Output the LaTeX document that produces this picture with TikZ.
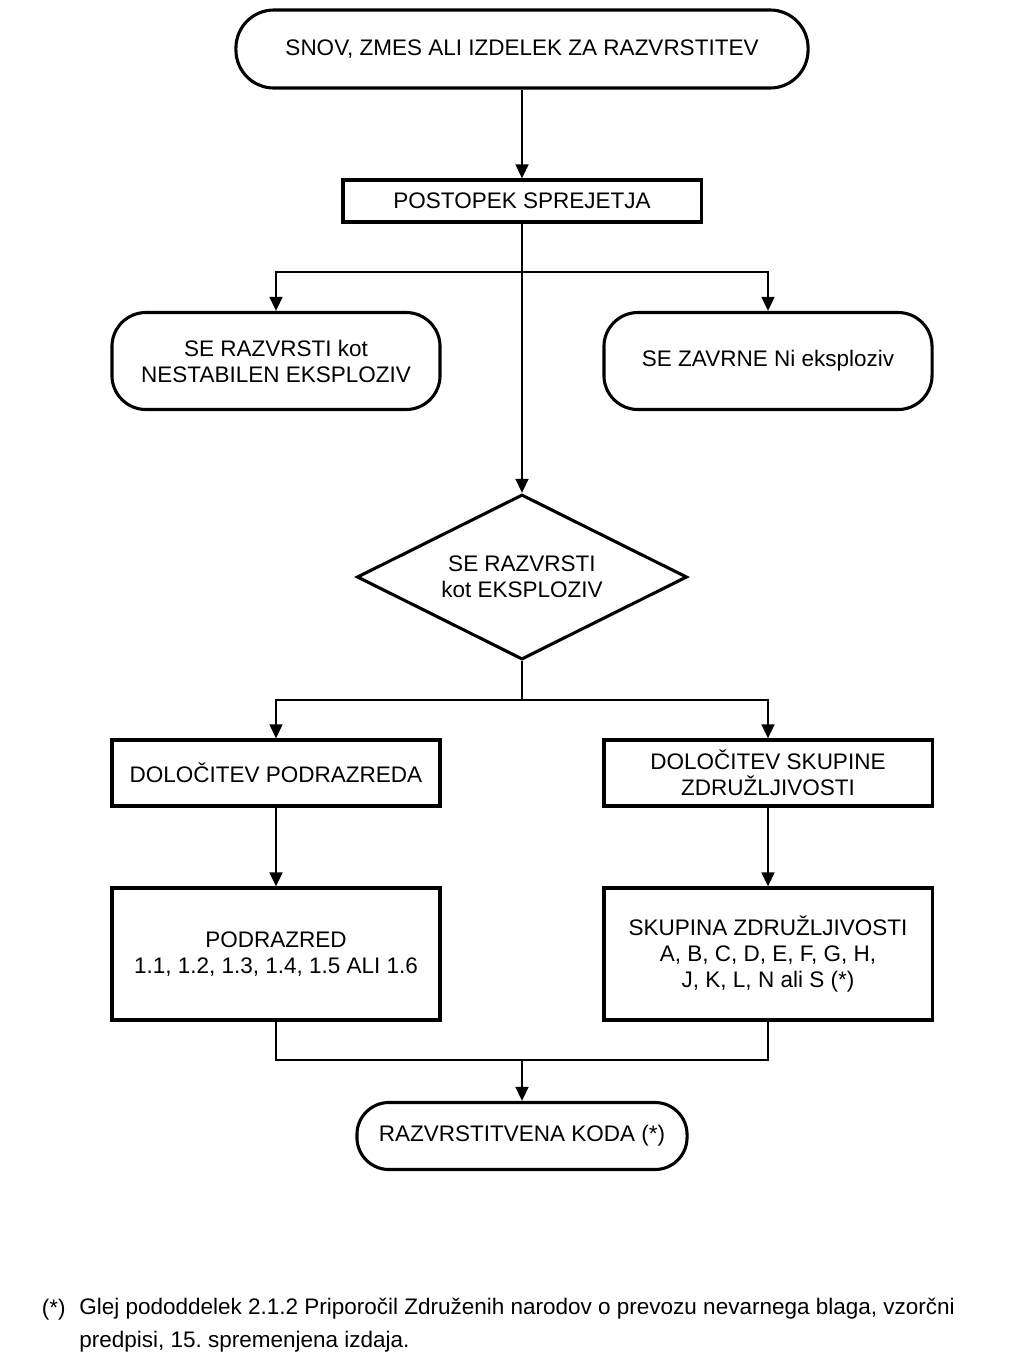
\documentclass[tikz,border=0pt]{standalone}
\usepackage{fontspec}
\setmainfont{Liberation Sans}
\usetikzlibrary{arrows.meta,shapes.geometric}

\begin{document}
\begin{tikzpicture}[x=0.025cm,y=-0.025cm,
    every node/.style={font=\fontsize{16}{18.5}\selectfont,align=center},
    okvir/.style={draw,line width=2.2pt,inner sep=2pt},
    zaobljen/.style={okvir,rounded corners=0.85cm},
    odlocitev/.style={draw,diamond,shape aspect=2,line width=2.2pt,inner sep=0pt,
      minimum width=8.25cm,minimum height=4.125cm},
    pusc/.style={line width=1.8pt,-{Triangle[length=10pt,width=9pt]}},
    crta/.style={line width=1.8pt}]
  \useasboundingbox (0,0) rectangle (1023,1364);

  % --- vhod in postopek sprejetja -----------------------------------------
  \node[zaobljen,rounded corners=0.95cm,minimum width=14.3cm,minimum height=1.95cm]
    (snov) at (522,49) {SNOV, ZMES ALI IZDELEK ZA RAZVRSTITEV};
  \node[okvir,minimum width=8.95cm,minimum height=1.05cm]
    (sprejem) at (522,201) {POSTOPEK SPREJETJA};

  % --- rezultati sprejetja ---------------------------------------------------
  \node[zaobljen,minimum width=8.2cm,minimum height=2.425cm]
    (nestab) at (276,361) {SE RAZVRSTI kot\\NESTABILEN EKSPLOZIV};
  \node[zaobljen,minimum width=8.2cm,minimum height=2.425cm]
    (zavrne) at (768,361) {SE ZAVRNE Ni eksploziv};
  \node[odlocitev] (ekspl) at (522,577) {SE RAZVRSTI\\kot EKSPLOZIV};

  % --- podrazred in skupina zdruzljivosti -----------------------------------
  \node[okvir,minimum width=8.2cm,minimum height=1.65cm]
    (dolpodr) at (276,773) {DOLOČITEV PODRAZREDA};
  \node[okvir,minimum width=8.2cm,minimum height=1.65cm]
    (dolskup) at (768,773) {DOLOČITEV SKUPINE\\ZDRUŽLJIVOSTI};
  \node[okvir,minimum width=8.2cm,minimum height=3.3cm]
    (podrazred) at (276,954) {PODRAZRED\\1.1, 1.2, 1.3, 1.4, 1.5 ALI 1.6};
  \node[okvir,minimum width=8.2cm,minimum height=3.3cm]
    (skupina) at (768,954) {SKUPINA ZDRUŽLJIVOSTI\\A, B, C, D, E, F, G, H,\\J, K, L, N ali S (*)};
  \node[zaobljen,rounded corners=0.8cm,minimum width=8.25cm,minimum height=1.675cm]
    (koda) at (522,1136) {RAZVRSTITVENA KODA (*)};

  % razcepi
  \coordinate (razc1) at (522,272);
  \coordinate (razc2) at (522,700);
  \coordinate (zdr) at (522,1060);

  % --- povezave ---------------------------------------------------------------
  \draw[pusc] (snov) -- (sprejem);
  \draw[pusc] (sprejem) -- (ekspl.north);
  \draw[pusc] (razc1) -| (nestab.north);
  \draw[pusc] (razc1) -| (zavrne.north);
  \draw[crta] (ekspl.south) -- (razc2);
  \draw[pusc] (razc2) -| (dolpodr.north);
  \draw[pusc] (razc2) -| (dolskup.north);
  \draw[pusc] (dolpodr) -- (podrazred);
  \draw[pusc] (dolskup) -- (skupina);
  \draw[crta] (podrazred.south) |- (zdr) -| (skupina.south);
  \draw[pusc] (zdr) -- (koda.north);

  % --- opomba -------------------------------------------------------------------
  \node[anchor=west] (zvezd) at (37,1310) {(*)};
  \node[anchor=north west,align=left,inner sep=0pt,
    font=\fontsize{16}{23}\selectfont] (opomba) at (79,1298)
    {Glej pododdelek 2.1.2 Priporočil Združenih narodov o prevozu nevarnega blaga, vzorčni\\
     predpisi, 15.\ spremenjena izdaja.};
\end{tikzpicture}
\end{document}
